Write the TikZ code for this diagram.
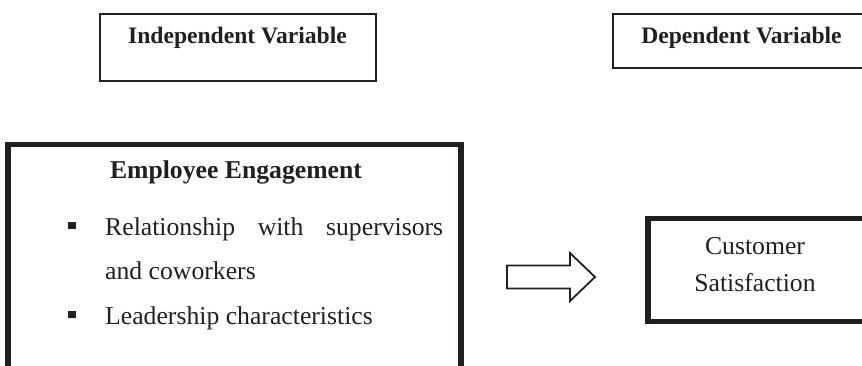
\documentclass[tikz,border=0pt]{standalone}
\usepackage{fontspec}
\setmainfont{Liberation Serif}
\definecolor{ink}{RGB}{35,31,32}
\begin{document}
\begin{tikzpicture}[x=1pt,y=-1pt,
  thinbox/.style={draw=ink,line width=2pt,inner sep=0pt,outer sep=0pt,anchor=north west},
  thickbox/.style={draw=ink,line width=5.5pt,inner sep=0pt,outer sep=0pt,anchor=north west},
  head/.style={text=ink,inner sep=0pt,anchor=base,font=\fontsize{23.6}{28}\selectfont\bfseries},
  body/.style={text=ink,inner sep=0pt,font=\fontsize{25.7}{30}\selectfont},
  bulletsq/.style={fill=ink,draw=none,inner sep=0pt,minimum size=7.5pt}]
\useasboundingbox (0,0) rectangle (862,365);
\clip (0,0) rectangle (862,365);
% boxes
\node[thinbox,minimum width=276pt,minimum height=67.5pt] (indep) at (99.5,13.5) {};
\node[thinbox,minimum width=300pt,minimum height=53.7pt] (dep) at (612.5,13.8) {};
\node[thickbox,minimum width=453pt,minimum height=260pt] (emp) at (8,144.5) {};
\node[thickbox,minimum width=260pt,minimum height=103pt] (cust) at (648,218.5) {};
% headings
\node[head] (indept) at (237.5,43.5) {Independent Variable};
\node[head] (dept) at (741.5,43.5) {Dependent Variable};
\node[head,font=\fontsize{25.7}{30}\selectfont\bfseries] (empt) at (236,178) {Employee Engagement};
% bullets
\node[bulletsq] (b1) at (72,225.5) {};
\node[bulletsq] (b2) at (72,314.5) {};
\node[body,anchor=base west] (l1) at (105,235) {\makebox[338pt][s]{Relationship with supervisors}};
\node[body,anchor=base west] (l2) at (105,279) {and coworkers};
\node[body,anchor=base west] (l3) at (105,324) {Leadership characteristics};
% customer
\node[body,anchor=base] (c1) at (755,254) {Customer};
\node[body,anchor=base] (c2) at (755,291) {Satisfaction};
% block arrow
\coordinate (a0) at (507,277);
\draw[draw=ink,line width=1.8pt,line join=miter]
  (a0) ++(0,-11.5) -- ++(63,0) -- ++(0,-12.5) -- (595,277) -- (570,301) -- ++(0,-12.5) -- ++(-63,0) -- cycle;
\end{tikzpicture}
\end{document}
